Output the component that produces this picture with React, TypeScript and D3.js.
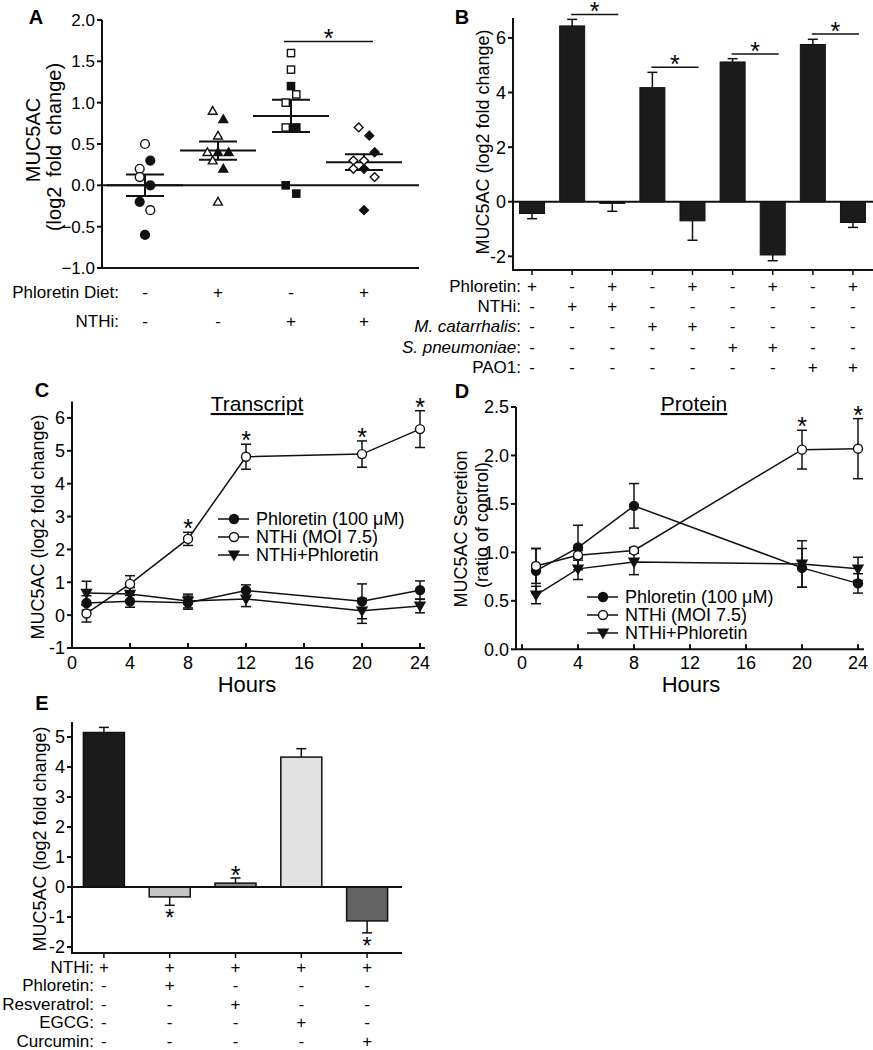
import React from "react";
import * as d3 from "d3";

const FONT = "'Liberation Sans', Arial, Helvetica, sans-serif";

// ---------------- Panel A data ----------------
const groupsA = ["ctrl", "phl", "nthi", "both"];
const dietRowA = ["-", "+", "-", "+"];
const nthiRowA = ["-", "-", "+", "+"];
const meanA = [0.0, 0.42, 0.84, 0.28];
const semA = [0.13, 0.11, 0.195, 0.095];
const ticksA = [-1, -0.5, 0, 0.5, 1, 1.5, 2];
// [value, jitter column]
const openA1 = [[0.5, 0], [0.2, -1], [0.1, -1], [-0.3, 1]];
const filledA1 = [[0.3, 1], [0.0, 1], [-0.2, -1], [-0.6, 0]];
const openA2 = [[0.9, -1], [0.6, 0], [0.4, -2], [0.3, -1], [-0.2, 0]];
const filledA2 = [[0.8, 1], [0.4, 0], [0.4, 2], [0.2, 1]];
const openA3 = [[1.6, 0], [1.4, 0], [1.1, 1], [1.0, -1], [0.7, -1]];
const filledA3 = [[1.2, 0], [0.7, 1], [0.0, -1], [-0.1, 1]];
const openA4 = [[0.7, -1], [0.3, -2], [0.3, 0], [0.2, -2], [0.1, 2]];
const filledA4 = [[0.6, 1], [0.4, 2], [0.2, 0], [-0.3, 0]];
const sigA = { from: 2, to: 3, level: 1.74 };

// ---------------- Panel B data ----------------
const phlRowB = ["+", "-", "+", "-", "+", "-", "+", "-", "+"];
const nthiRowB = ["-", "+", "+", "-", "-", "-", "-", "-", "-"];
const mcatRowB = ["-", "-", "-", "+", "+", "-", "-", "-", "-"];
const spnRowB = ["-", "-", "-", "-", "-", "+", "+", "-", "-"];
const paoRowB = ["-", "-", "-", "-", "-", "-", "-", "+", "+"];
const valuesB = [-0.43, 6.44, -0.06, 4.18, -0.7, 5.12, -1.95, 5.76, -0.76];
const errB = [0.19, 0.24, 0.29, 0.56, 0.71, 0.12, 0.21, 0.19, 0.18];
const ticksB = [-2, 0, 2, 4, 6];
const sigPairsB = [[1, 2], [3, 4], [5, 6], [7, 8]];
const sigLevelsB = [6.86, 4.93, 5.41, 6.14];

// ---------------- Panel C data ----------------
const timesC = [1, 4, 8, 12, 20, 24];
const phlC = [0.37, 0.42, 0.38, 0.75, 0.42, 0.76];
const phlErrC = [0.22, 0.18, 0.2, 0.17, 0.53, 0.28];
const nthiC = [0.05, 0.95, 2.32, 4.82, 4.9, 5.66];
const nthiErrC = [0.26, 0.25, 0.2, 0.38, 0.4, 0.56];
const combC = [0.67, 0.64, 0.43, 0.49, 0.13, 0.28];
const combErrC = [0.36, 0.2, 0.21, 0.23, 0.38, 0.21];
const sigC = [false, false, true, true, true, true];
const ticksXC = [0, 4, 8, 12, 16, 20, 24];
const ticksYC = [-1, 0, 1, 2, 3, 4, 5, 6];

// ---------------- Panel D data ----------------
const timesD = [1, 4, 8, 20, 24];
const phlD = [0.81, 1.05, 1.48, 0.84, 0.68];
const phlErrD = [0.23, 0.23, 0.23, 0.2, 0.1];
const nthiD = [0.86, 0.97, 1.02, 2.06, 2.07];
const nthiErrD = [0.18, 0.05, 0.03, 0.2, 0.31];
const combD = [0.56, 0.83, 0.9, 0.88, 0.83];
const combErrD = [0.09, 0.11, 0.13, 0.24, 0.12];
const sigD = [false, false, false, true, true];
const ticksXD = [0, 4, 8, 12, 16, 20, 24];
const ticksYD = [0, 0.5, 1, 1.5, 2, 2.5];

// ---------------- Panel E data ----------------
const nthiRowE = ["+", "+", "+", "+", "+"];
const phlRowE = ["-", "+", "-", "-", "-"];
const resRowE = ["-", "-", "+", "-", "-"];
const egcgRowE = ["-", "-", "-", "+", "-"];
const curRowE = ["-", "-", "-", "-", "+"];
const valuesE = [5.15, -0.33, 0.13, 4.33, -1.13];
const errE = [0.17, 0.28, 0.17, 0.28, 0.4];
const colorsE = ["#1b1b1b", "#c6c6c6", "#8a8a8a", "#e1e1e1", "#626262"];
const sigE = ["", "below", "above", "", "below"];
const ticksE = [-2, -1, 0, 1, 2, 3, 4, 5];

const legendLabels = ["Phloretin (100 \u03bcM)", "NTHi (MOI 7.5)", "NTHi+Phloretin"];

const SW = 2;

function Star({ x, cy, size = 25 }: { x: number; cy: number; size?: number }) {
  return (
    <text x={x} y={cy + size * 0.6} fontSize={size} textAnchor="middle" fontFamily={FONT}>
      *
    </text>
  );
}

function Marker({ kind, x, y, filled, size = 4.5 }: any) {
  const fill = filled ? "#111" : "#fff";
  const common = { fill, stroke: "#111", strokeWidth: 1.4 };
  if (kind === "circle") return <circle cx={x} cy={y} r={size} {...common} />;
  if (kind === "square")
    return <rect x={x - size * 0.82} y={y - size * 0.82} width={size * 1.64} height={size * 1.64} {...common} />;
  if (kind === "diamond") {
    const s = size;
    return <path d={`M${x},${y - s}L${x + s},${y}L${x},${y + s}L${x - s},${y}Z`} {...common} />;
  }
  if (kind === "triangle") {
    const s = size;
    return <path d={`M${x},${y - s}L${x + s},${y + s * 0.75}L${x - s},${y + s * 0.75}Z`} {...common} />;
  }
  if (kind === "down") {
    const s = size;
    return <path d={`M${x},${y + s}L${x + s},${y - s * 0.75}L${x - s},${y - s * 0.75}Z`} {...common} />;
  }
  return null;
}

function PanelA() {
  const y = d3.scaleLinear().domain([-1, 2]).range([268, 20]);
  const x = d3.scalePoint<string>().domain(groupsA).range([145, 364]);
  const col = 5.3;
  const x0 = 102;
  const x1 = 419;
  const shapes = ["circle", "triangle", "square", "diamond"];
  const opens = [openA1, openA2, openA3, openA4];
  const filleds = [filledA1, filledA2, filledA3, filledA4];
  const fmt = d3.format(".1f");
  return (
    <g fontFamily={FONT}>
      <text x={36} y={24} fontSize={20} fontWeight="bold" textAnchor="middle">A</text>
      <line x1={x0} x2={x0} y1={y(2)} y2={y(-1)} stroke="#111" strokeWidth={SW} />
      <line x1={x0 - 1} x2={x1} y1={y(-1)} y2={y(-1)} stroke="#111" strokeWidth={SW} />
      <line x1={x0} x2={x1} y1={y(0)} y2={y(0)} stroke="#111" strokeWidth={SW} />
      {ticksA.map((t) => (
        <g key={t}>
          <line x1={x0 - 5} x2={x0} y1={y(t)} y2={y(t)} stroke="#111" strokeWidth={SW} />
          <text x={x0 - 7} y={y(t)} dy="0.36em" fontSize={17} textAnchor="end">{fmt(t)}</text>
        </g>
      ))}
      <text transform={`translate(33,${140}) rotate(-90)`} fontSize={20} textAnchor="middle" dy="0.35em">MUC5AC</text>
      <text transform={`translate(54,${147}) rotate(-90)`} fontSize={20} textAnchor="middle" dy="0.35em" style={{ wordSpacing: "4px" }}>(log2 fold change)</text>
      {groupsA.map((g, i) => {
        const cx = x(g)!;
        return (
          <g key={g}>
            <line x1={cx - 38} x2={cx + 38} y1={y(meanA[i])} y2={y(meanA[i])} stroke="#111" strokeWidth={SW} />
            <line x1={cx - 19} x2={cx + 19} y1={y(meanA[i] + semA[i])} y2={y(meanA[i] + semA[i])} stroke="#111" strokeWidth={SW} />
            <line x1={cx - 19} x2={cx + 19} y1={y(meanA[i] - semA[i])} y2={y(meanA[i] - semA[i])} stroke="#111" strokeWidth={SW} />
            <line x1={cx} x2={cx} y1={y(meanA[i] + semA[i])} y2={y(meanA[i] - semA[i])} stroke="#111" strokeWidth={SW} />
            {opens[i].map((p, k) => (
              <Marker key={"o" + k} kind={shapes[i]} x={cx + p[1] * col} y={y(p[0])} filled={false} size={4.4} />
            ))}
            {filleds[i].map((p, k) => (
              <Marker key={"f" + k} kind={shapes[i]} x={cx + p[1] * col} y={y(p[0])} filled={true} size={4.4} />
            ))}
            <text x={cx} y={292} dy="0.35em" fontSize={17} textAnchor="middle">{dietRowA[i]}</text>
            <text x={cx} y={321} dy="0.35em" fontSize={17} textAnchor="middle">{nthiRowA[i]}</text>
          </g>
        );
      })}
      <text x={119} y={292} dy="0.35em" fontSize={17} textAnchor="end">Phloretin Diet:</text>
      <text x={119} y={321} dy="0.35em" fontSize={17} textAnchor="end">NTHi:</text>
      <line x1={x(groupsA[sigA.from])! - 7} x2={x(groupsA[sigA.to])! + 9} y1={y(sigA.level)} y2={y(sigA.level)} stroke="#111" strokeWidth={1.5} />
      <Star x={(x(groupsA[sigA.from])! + x(groupsA[sigA.to])!) / 2 + 1} cy={y(sigA.level) - 9} />
    </g>
  );
}

function PanelB() {
  const idx = valuesB.map((_, i) => i);
  const x = d3.scaleBand<number>().domain(idx).range([512, 873]).padding(0);
  const y = d3.scaleLinear().domain([-2.5, 6.73]).range([270, 18]);
  const bw = 25;
  const ax = 513;
  const rows = [
    { label: "Phloretin", italic: false, vals: phlRowB },
    { label: "NTHi", italic: false, vals: nthiRowB },
    { label: "M. catarrhalis", italic: true, vals: mcatRowB },
    { label: "S. pneumoniae", italic: true, vals: spnRowB },
    { label: "PAO1", italic: false, vals: paoRowB },
  ];
  const cx = (i: number) => x(i)! + x.bandwidth() / 2;
  return (
    <g fontFamily={FONT}>
      <text x={462} y={24} fontSize={20} fontWeight="bold" textAnchor="middle">B</text>
      <line x1={ax} x2={ax} y1={y(6.73)} y2={y(-2.5)} stroke="#111" strokeWidth={SW} />
      <line x1={ax - 1} x2={873} y1={y(-2.5)} y2={y(-2.5)} stroke="#111" strokeWidth={SW} />
      <line x1={ax} x2={873} y1={y(0)} y2={y(0)} stroke="#111" strokeWidth={SW} />
      {ticksB.map((t) => (
        <g key={t}>
          <line x1={ax - 5} x2={ax} y1={y(t)} y2={y(t)} stroke="#111" strokeWidth={SW} />
          <text x={ax - 7} y={y(t)} dy="0.36em" fontSize={18} textAnchor="end">{t}</text>
        </g>
      ))}
      <text transform={`translate(483,142) rotate(-90)`} fontSize={18} textAnchor="middle" dy="0.35em">MUC5AC (log2 fold change)</text>
      {valuesB.map((v, i) => {
        const c = cx(i);
        const top = Math.min(y(v), y(0));
        const h = Math.abs(y(v) - y(0));
        const ev = v >= 0 ? v + errB[i] : v - errB[i];
        return (
          <g key={i}>
            <line x1={c} x2={c} y1={y(v)} y2={y(ev)} stroke="#111" strokeWidth={1.5} />
            <line x1={c - 5} x2={c + 5} y1={y(ev)} y2={y(ev)} stroke="#111" strokeWidth={1.5} />
            <rect x={c - bw / 2} y={top} width={bw} height={h} fill="#1b1b1b" stroke="#111" strokeWidth={1} />
            <line x1={c} x2={c} y1={y(-2.5)} y2={y(-2.5) + 5} stroke="#111" strokeWidth={1.5} />
          </g>
        );
      })}
      {sigPairsB.map((p, k) => {
        const a = cx(p[0]) - 1;
        const b = cx(p[1]) + 6;
        return (
          <g key={k}>
            <line x1={a} x2={b} y1={y(sigLevelsB[k])} y2={y(sigLevelsB[k])} stroke="#111" strokeWidth={1.5} />
            <Star x={(a + b) / 2} cy={y(sigLevelsB[k]) - 9} />
          </g>
        );
      })}
      {rows.map((r, ri) => {
        const ry = 286 + ri * 20.2;
        return (
          <g key={ri}>
            <text x={521} y={ry} dy="0.35em" fontSize={17} textAnchor="end">
              <tspan fontStyle={r.italic ? "italic" : "normal"}>{r.label}</tspan>
              <tspan>:</tspan>
            </text>
            {r.vals.map((s, i) => (
              <text key={i} x={cx(i)} y={ry} dy="0.35em" fontSize={17} textAnchor="middle">{s}</text>
            ))}
          </g>
        );
      })}
    </g>
  );
}

function LinePanel(props: any) {
  const {
    letter, lx, ly, x, y, axX, axTop, axBottom, axRight, ticksX, ticksY, fmtY, times,
    series, title, titleX, legendX, legendY, sig, ylabel, hoursX,
  } = props;
  const kinds = ["circle", "circle", "down"];
  const filled = [true, false, true];
  return (
    <g fontFamily={FONT}>
      <text x={lx} y={ly + 7} fontSize={20} fontWeight="bold" textAnchor="middle">{letter}</text>
      <line x1={axX} x2={axX} y1={axTop} y2={axBottom} stroke="#111" strokeWidth={SW} />
      <line x1={axX - 1} x2={axRight} y1={axBottom} y2={axBottom} stroke="#111" strokeWidth={SW} />
      {ticksY.map((t: number) => (
        <g key={t}>
          <line x1={axX - 5} x2={axX} y1={y(t)} y2={y(t)} stroke="#111" strokeWidth={SW} />
          <text x={axX - 7} y={y(t)} dy="0.36em" fontSize={18} textAnchor="end">{fmtY(t)}</text>
        </g>
      ))}
      {ticksX.map((t: number) => (
        <g key={t}>
          <line x1={x(t)} x2={x(t)} y1={axBottom} y2={axBottom - 5} stroke="#111" strokeWidth={SW} />
          <text x={x(t)} y={663} dy="0.36em" fontSize={18} textAnchor="middle">{t}</text>
        </g>
      ))}
      <text x={hoursX} y={684} dy="0.36em" fontSize={22} textAnchor="middle">Hours</text>
      <text x={titleX} y={411} fontSize={21} textAnchor="middle" textDecoration="underline">{title}</text>
      {ylabel}
      {series.map((s: any, si: number) => {
        const line = d3.line<number>().x((_, i) => x(times[i])).y((v) => y(v));
        return <path key={"l" + si} d={line(s.vals)!} fill="none" stroke="#111" strokeWidth={1.5} />;
      })}
      {series.map((s: any, si: number) => (
        <g key={"e" + si}>
          {s.vals.map((v: number, i: number) => {
            const px = x(times[i]);
            const e = s.err[i];
            return (
              <g key={i}>
                <line x1={px} x2={px} y1={y(v - e)} y2={y(v + e)} stroke="#111" strokeWidth={1.5} />
                <line x1={px - 5} x2={px + 5} y1={y(v - e)} y2={y(v - e)} stroke="#111" strokeWidth={1.5} />
                <line x1={px - 5} x2={px + 5} y1={y(v + e)} y2={y(v + e)} stroke="#111" strokeWidth={1.5} />
              </g>
            );
          })}
        </g>
      ))}
      {series.map((s: any, si: number) => (
        <g key={"m" + si}>
          {s.vals.map((v: number, i: number) => (
            <Marker key={i} kind={kinds[si]} x={x(times[i])} y={y(v)} filled={filled[si]} size={kinds[si] === "down" ? 5 : 4.5} />
          ))}
        </g>
      ))}
      {sig.map((b: boolean, i: number) =>
        b ? <Star key={i} x={x(times[i])} cy={y(series[1].vals[i] + series[1].err[i]) - 10} /> : null
      )}
      {legendLabels.map((l, i) => (
        <g key={l}>
          <line x1={legendX} x2={legendX + 31} y1={legendY + i * 18} y2={legendY + i * 18} stroke="#111" strokeWidth={1.5} />
          <Marker kind={kinds[i]} x={legendX + 16} y={legendY + i * 18} filled={filled[i]} size={kinds[i] === "down" ? 5 : 4.5} />
          <text x={legendX + 38} y={legendY + i * 18} dy="0.36em" fontSize={18}>{l}</text>
        </g>
      ))}
    </g>
  );
}

function PanelC() {
  const x = d3.scaleLinear().domain([0, 24]).range([72, 420]);
  const y = d3.scaleLinear().domain([-1, 6.5]).range([648, 401.5]);
  return (
    <LinePanel
      letter="C" lx={42} ly={390} x={x} y={y} axX={72} axTop={y(6.5)} axBottom={y(-1)} axRight={425}
      ticksX={ticksXC} ticksY={ticksYC} fmtY={(t: number) => String(t)} times={timesC}
      series={[
        { vals: phlC, err: phlErrC },
        { vals: nthiC, err: nthiErrC },
        { vals: combC, err: combErrC },
      ]}
      title="Transcript" titleX={257} legendX={218} legendY={519} sig={sigC} hoursX={247}
      ylabel={<text transform={`translate(38,527) rotate(-90)`} fontSize={18} textAnchor="middle" dy="0.35em">MUC5AC (log2 fold change)</text>}
    />
  );
}

function PanelD() {
  const x = d3.scaleLinear().domain([0, 24]).range([522, 858]);
  const y = d3.scaleLinear().domain([0, 2.5]).range([649.3, 407]);
  const fmt = d3.format(".1f");
  return (
    <LinePanel
      letter="D" lx={462} ly={391} x={x} y={y} axX={516} axTop={y(2.5)} axBottom={y(0)} axRight={864}
      ticksX={ticksXD} ticksY={ticksYD} fmtY={(t: number) => fmt(t)} times={timesD}
      series={[
        { vals: phlD, err: phlErrD },
        { vals: nthiD, err: nthiErrD },
        { vals: combD, err: combErrD },
      ]}
      title="Protein" titleX={694} legendX={587} legendY={597} sig={sigD} hoursX={691}
      ylabel={
        <g>
          <text transform={`translate(461,529) rotate(-90)`} fontSize={18} textAnchor="middle" dy="0.35em">MUC5AC Secretion</text>
          <text transform={`translate(482,525) rotate(-90)`} fontSize={18} textAnchor="middle" dy="0.35em">(ratio of control)</text>
        </g>
      }
    />
  );
}

function PanelE() {
  const idx = valuesE.map((_, i) => i);
  const x = d3.scaleBand<number>().domain(idx).range([71, 400]).padding(0);
  const y = d3.scaleLinear().domain([-2.2, 5.5]).range([953, 722]);
  const ax = 72;
  const bw = 41;
  const cx = (i: number) => x(i)! + x.bandwidth() / 2;
  const rows = [
    { label: "NTHi", vals: nthiRowE },
    { label: "Phloretin", vals: phlRowE },
    { label: "Resveratrol", vals: resRowE },
    { label: "EGCG", vals: egcgRowE },
    { label: "Curcumin", vals: curRowE },
  ];
  return (
    <g fontFamily={FONT}>
      <text x={42} y={710} fontSize={20} fontWeight="bold" textAnchor="middle">E</text>
      <line x1={ax} x2={ax} y1={y(5.5)} y2={y(-2.2)} stroke="#111" strokeWidth={SW} />
      <line x1={ax - 1} x2={402} y1={y(-2.2)} y2={y(-2.2)} stroke="#111" strokeWidth={SW} />
      {ticksE.map((t) => (
        <g key={t}>
          <line x1={ax - 5} x2={ax} y1={y(t)} y2={y(t)} stroke="#111" strokeWidth={SW} />
          <text x={ax - 7} y={y(t)} dy="0.36em" fontSize={18} textAnchor="end">{t}</text>
        </g>
      ))}
      <text transform={`translate(40,839) rotate(-90)`} fontSize={18} textAnchor="middle" dy="0.35em">MUC5AC (log2 fold change)</text>
      {valuesE.map((v, i) => {
        const c = cx(i);
        const top = Math.min(y(v), y(0));
        const h = Math.abs(y(v) - y(0));
        const ev = v >= 0 ? v + errE[i] : v - errE[i];
        return (
          <g key={i}>
            <line x1={c} x2={c} y1={y(v)} y2={y(ev)} stroke="#111" strokeWidth={1.5} />
            <line x1={c - 5} x2={c + 5} y1={y(ev)} y2={y(ev)} stroke="#111" strokeWidth={1.5} />
            <rect x={c - bw / 2} y={top} width={bw} height={h} fill={colorsE[i]} stroke="#111" strokeWidth={1.5} />
            <line x1={c} x2={c} y1={y(-2.2)} y2={y(-2.2) + 5} stroke="#111" strokeWidth={1.5} />
            {sigE[i] === "above" ? <Star x={c} cy={y(ev) - 9} /> : null}
            {sigE[i] === "below" ? <Star x={c} cy={y(ev) + 7} size={23} /> : null}
          </g>
        );
      })}
      <line x1={ax} x2={402} y1={y(0)} y2={y(0)} stroke="#111" strokeWidth={SW} />
      {rows.map((r, ri) => {
        const ry = 967 + ri * 18.5;
        return (
          <g key={ri}>
            <text x={94} y={ry} dy="0.35em" fontSize={17} textAnchor="end">{r.label}:</text>
            {r.vals.map((s, i) => (
              <text key={i} x={cx(i)} y={ry} dy="0.35em" fontSize={17} textAnchor="middle">{s}</text>
            ))}
          </g>
        );
      })}
    </g>
  );
}

export default function App() {
  return (
    <svg
      width={873}
      height={1050}
      viewBox="0 0 873 1050"
      style={{ position: "absolute", left: 0, top: 0, background: "#fff" }}
    >
      <rect width={873} height={1050} fill="#fff" />
      <PanelA />
      <PanelB />
      <PanelC />
      <PanelD />
      <PanelE />
    </svg>
  );
}
